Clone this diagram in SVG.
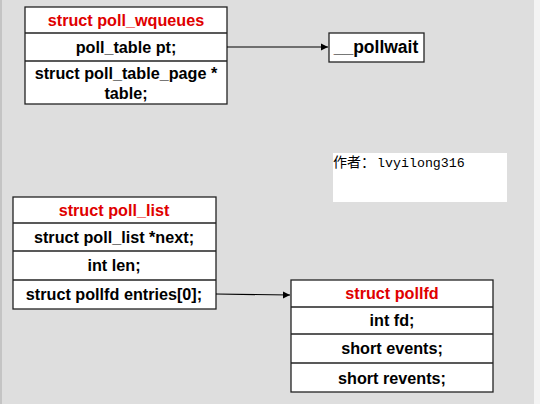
<svg xmlns="http://www.w3.org/2000/svg" width="540" height="404" viewBox="0 0 540 404">
<defs>
<style>
.box{fill:#fff;stroke:#222;stroke-width:1.3}
.div{stroke:#222;stroke-width:1.3}
.t{font-family:"Liberation Sans",Arial,sans-serif;font-weight:bold;font-size:16.2px;fill:#000;text-anchor:middle}
.h{fill:#e00000}
.conn{stroke:#000;stroke-width:1.2;fill:none}
</style>
<marker id="arr" markerWidth="8" markerHeight="8" refX="7" refY="4" orient="auto" markerUnits="userSpaceOnUse">
<path d="M0,0.5 L7,4 L0,7.5 Z" fill="#000"/>
</marker>
</defs>
<rect x="0" y="0" width="540" height="404" fill="#dedede"/>
<rect x="0" y="0" width="2" height="404" fill="#c4c4c4"/>
<rect x="534" y="0" width="6" height="404" fill="#f4f4f4"/>

<g id="poll_wqueues">
<rect class="box" x="25" y="7" width="202" height="97"/>
<line class="div" x1="25" y1="33" x2="227" y2="33"/>
<line class="div" x1="25" y1="61" x2="227" y2="61"/>
<text class="t h" x="126" y="26">struct poll_wqueues</text>
<text class="t" x="126" y="53">poll_table pt;</text>
<text class="t" x="126" y="79">struct poll_table_page *</text>
<text class="t" x="126" y="99">table;</text>
</g>

<g id="pollwait">
<rect class="box" x="329" y="33" width="95" height="29"/>
<text class="t" x="376" y="53" style="font-size:17.5px">__pollwait</text>
</g>

<g id="author">
<rect x="333" y="153" width="174" height="49" fill="#fff"/>
<text x="333" y="167" font-family="'Noto Sans CJK SC',sans-serif" font-size="14" fill="#000">作者：</text>
<text x="377" y="167" font-family="'Liberation Mono',monospace" font-size="13.3" fill="#000">lvyilong316</text>
</g>

<g id="poll_list">
<rect class="box" x="13" y="197" width="203" height="112"/>
<line class="div" x1="13" y1="223" x2="216" y2="223"/>
<line class="div" x1="13" y1="251" x2="216" y2="251"/>
<line class="div" x1="13" y1="280" x2="216" y2="280"/>
<text class="t h" x="114" y="216">struct poll_list</text>
<text class="t" x="114" y="243">struct poll_list *next;</text>
<text class="t" x="114" y="271">int len;</text>
<text class="t" x="114" y="300">struct pollfd entries[0];</text>
</g>

<g id="pollfd">
<rect class="box" x="291" y="280" width="202" height="112"/>
<line class="div" x1="291" y1="307" x2="493" y2="307"/>
<line class="div" x1="291" y1="334" x2="493" y2="334"/>
<line class="div" x1="291" y1="363" x2="493" y2="363"/>
<text class="t h" x="392" y="299">struct pollfd</text>
<text class="t" x="392" y="326">int fd;</text>
<text class="t" x="392" y="354">short events;</text>
<text class="t" x="392" y="384">short revents;</text>
</g>

<g id="connectors">
<line class="conn" x1="227" y1="47" x2="328" y2="47" marker-end="url(#arr)"/>
<line class="conn" x1="216" y1="294" x2="290" y2="295" marker-end="url(#arr)"/>
</g>
</svg>
